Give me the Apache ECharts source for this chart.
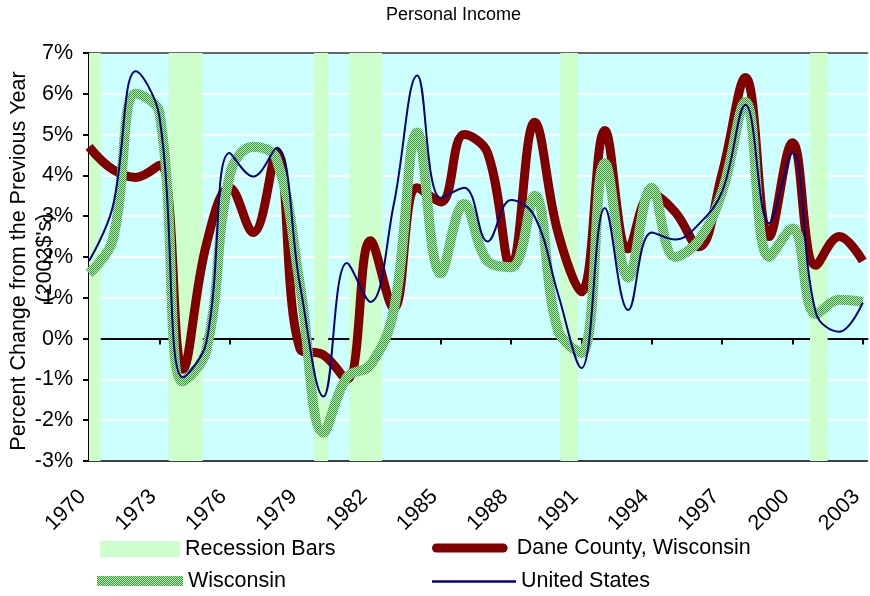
<!DOCTYPE html>
<html>
<head>
<meta charset="utf-8">
<script src="https://cdn.jsdelivr.net/npm/echarts@6/dist/echarts.min.js"></script>
<style>
  html, body { margin: 0; padding: 0; background: #ffffff; }
  #chart { width: 870px; height: 596px; }
</style>
</head>
<body>
<div id="chart"></div>
<script>
// Annual percent change in real personal income (2002 dollars)
const years = [1970, 1971, 1972, 1973, 1974, 1975, 1976, 1977, 1978, 1979,
               1980, 1981, 1982, 1983, 1984, 1985, 1986, 1987, 1988, 1989,
               1990, 1991, 1992, 1993, 1994, 1995, 1996, 1997, 1998, 1999,
               2000, 2001, 2002, 2003];

const daneCounty = [4.7, 4.15, 3.95, 4.25, -0.75, 2.3, 3.7, 2.6, 4.55, -0.25,
                    -0.4, -1.0, 2.4, 0.75, 3.7, 3.35, 5.0, 4.55, 1.75, 5.3,
                    2.6, 1.15, 5.1, 2.2, 3.55, 3.1, 2.25, 4.05, 6.4, 2.5,
                    4.8, 1.8, 2.5, 1.9];

const wisconsin = [1.6, 2.4, 6.0, 5.55, -1.05, -0.3, 4.0, 4.7, 4.4, 1.3,
                   -2.3, -0.95, -0.65, 0.7, 5.05, 1.6, 3.3, 1.9, 1.75, 3.5,
                   0.2, -0.35, 4.3, 1.5, 3.7, 2.0, 2.4, 3.6, 5.8, 2.0,
                   2.7, 0.6, 0.95, 0.9];

const unitedStates = [1.9, 3.2, 6.55, 5.45, -0.95, -0.1, 4.55, 3.97, 4.68, 1.3,
                      -1.42, 1.85, 0.9, 3.3, 6.45, 3.45, 3.7, 2.38, 3.4, 3.0,
                      1.1, -0.72, 3.2, 0.7, 2.6, 2.43, 2.8, 3.6, 5.73, 2.83,
                      4.55, 0.63, 0.17, 0.88];

// Recession periods as [start, end] in fractional years
const recessions = [[1970.0, 1970.5], [1973.4, 1974.85], [1979.6, 1980.2],
                    [1981.1, 1982.5], [1990.1, 1990.85], [2000.75, 2001.5]];

// Axis tick labels
const yearTicks = [1970, 1973, 1976, 1979, 1982, 1985, 1988, 1991, 1994, 1997, 2000, 2003];
const yMin = -3, yMax = 7;

const FONT = '"Liberation Sans", Arial, sans-serif';
const TEXT_SIZE = 21.5;

// Fine green checker used for the Wisconsin line
const checker = document.createElement('canvas');
checker.width = 2; checker.height = 2;
const cx = checker.getContext('2d');
cx.fillStyle = '#bfeabf'; cx.fillRect(0, 0, 2, 2);
cx.fillStyle = '#339933'; cx.fillRect(0, 0, 1, 1); cx.fillRect(1, 1, 1, 1);
const checkerFill = { image: checker, repeat: 'repeat' };

const pairs = arr => years.map((y, i) => [y, arr[i]]);

const chart = echarts.init(document.getElementById('chart'), null, { renderer: 'canvas' });

const legendBase = {
  selectedMode: false,
  textStyle: { fontSize: TEXT_SIZE, color: '#000', fontFamily: FONT },
  padding: 0
};

chart.setOption({
  animation: false,
  backgroundColor: '#ffffff',
  title: {
    text: 'Personal Income',
    left: 386, top: 6, padding: 0,
    textStyle: { fontSize: 18, fontWeight: 'normal', color: '#000', fontFamily: FONT }
  },
  grid: { left: 89, top: 53, right: 2.5, bottom: 135, backgroundColor: '#ccffff', show: true, borderWidth: 0 },
  legend: [
    Object.assign({}, legendBase, { data: [{ name: 'Recession Bars', icon: 'rect' }], left: 100, top: 538, itemWidth: 80, itemHeight: 16 }),
    Object.assign({}, legendBase, { data: [{ name: 'Dane County, Wisconsin', icon: 'path://M5,0 H79 A5,5 0 0 1 79,10 H5 A5,5 0 0 1 5,0 Z' }], left: 432, top: 537, itemWidth: 84, itemHeight: 9 }),
    Object.assign({}, legendBase, { data: [{ name: 'Wisconsin', icon: 'rect' }], left: 97, top: 570, itemWidth: 86, itemHeight: 10 }),
    Object.assign({}, legendBase, { data: [{ name: 'United States', icon: 'rect' }], left: 432, top: 570.5, itemWidth: 84, itemHeight: 2.5 })
  ],
  xAxis: [
    {
      // bottom frame + year labels
      type: 'value', min: 1970, max: 2003.2, position: 'bottom',
      axisLine: { onZero: false, lineStyle: { color: '#000', width: 1.5 } },
      axisTick: { show: false },
      splitLine: { show: false },
      axisLabel: {
        customValues: yearTicks, rotate: 45, margin: 26, padding: [0, 9, 0, 0],
        fontSize: TEXT_SIZE, color: '#000', fontFamily: FONT,
        formatter: v => String(v)
      }
    },
    {
      // zero line with tick marks
      type: 'value', min: 1970, max: 2003.2, position: 'bottom',
      axisLine: { onZero: true, lineStyle: { color: '#000', width: 2 } },
      axisTick: { customValues: yearTicks, length: 6, inside: false, lineStyle: { color: '#000', width: 2 } },
      axisLabel: { show: false },
      splitLine: { show: false }
    },
    {
      // top frame
      type: 'value', min: 1970, max: 2003.2, position: 'top',
      axisLine: { onZero: false, lineStyle: { color: '#333', width: 1.5 } },
      axisTick: { show: false }, axisLabel: { show: false }, splitLine: { show: false }
    }
  ],
  yAxis: {
    type: 'value', min: yMin, max: yMax, interval: 1,
    axisLine: { show: true, onZero: false, lineStyle: { color: '#000', width: 2 } },
    axisTick: { show: true, length: 6, lineStyle: { color: '#000', width: 2 } },
    axisLabel: { margin: 16, fontSize: TEXT_SIZE, color: '#000', fontFamily: FONT, formatter: v => v + '%' },
    splitLine: { show: true, lineStyle: { color: '#ffffff', width: 2 } }
  },
  graphic: [
    {
      type: 'text', x: 19, y: 261, rotation: Math.PI / 2,
      style: { text: 'Percent Change from the Previous Year', fontSize: TEXT_SIZE, fontFamily: FONT, fill: '#000', align: 'center', verticalAlign: 'middle' }
    },
    {
      type: 'text', x: 45, y: 258, rotation: Math.PI / 2,
      style: { text: "(2002$'s)", fontSize: TEXT_SIZE, fontFamily: FONT, fill: '#000', align: 'center', verticalAlign: 'middle' }
    }
  ],
  series: [
    {
      name: 'Recession Bars',
      type: 'custom',
      xAxisIndex: 0,
      data: recessions,
      encode: { x: [0, 1] },
      itemStyle: { color: '#ccffcc' },
      z: 1,
      renderItem: (params, api) => {
        const p0 = api.coord([api.value(0), yMax]);
        const p1 = api.coord([api.value(1), yMin]);
        const rect = echarts.graphic.clipRectByRect(
          { x: p0[0], y: p0[1], width: p1[0] - p0[0], height: p1[1] - p0[1] },
          { x: params.coordSys.x, y: params.coordSys.y, width: params.coordSys.width, height: params.coordSys.height }
        );
        return rect && { type: 'rect', shape: rect, style: { fill: '#ccffcc' } };
      }
    },
    {
      name: 'Dane County, Wisconsin',
      type: 'line', xAxisIndex: 0,
      data: pairs(daneCounty),
      smooth: 0.4, symbol: 'none',
      itemStyle: { color: '#800000' },
      lineStyle: { color: '#800000', width: 9 },
      z: 3
    },
    {
      name: 'Wisconsin',
      type: 'line', xAxisIndex: 0,
      data: pairs(wisconsin),
      smooth: 0.4, symbol: 'none',
      itemStyle: { color: checkerFill },
      lineStyle: { color: checkerFill, width: 10 },
      z: 4
    },
    {
      name: 'United States',
      type: 'line', xAxisIndex: 0,
      data: pairs(unitedStates),
      smooth: 0.4, symbol: 'none',
      itemStyle: { color: '#000080' },
      lineStyle: { color: '#000080', width: 2 },
      z: 5
    }
  ]
});
</script>
</body>
</html>
